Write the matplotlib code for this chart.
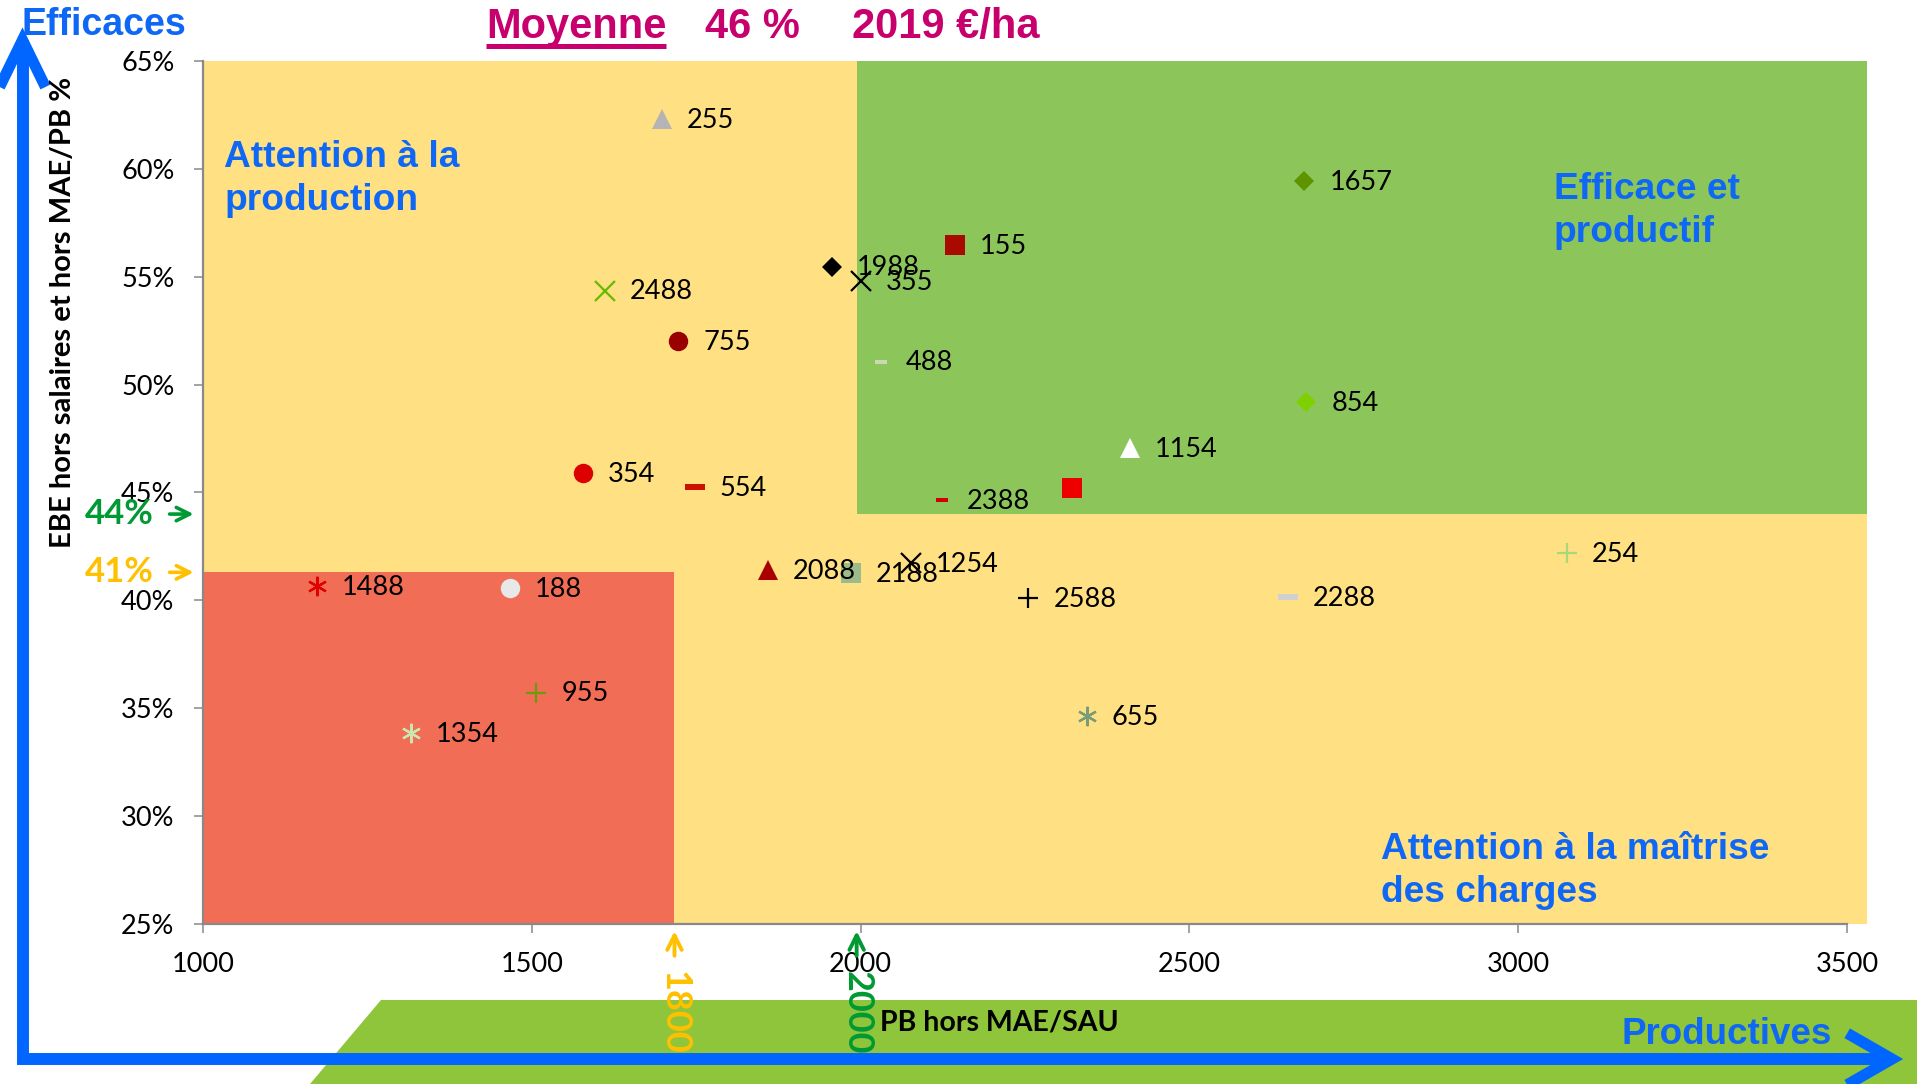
import matplotlib.pyplot as plt
from matplotlib.patches import Rectangle, Polygon
from matplotlib.lines import Line2D

# points: PB hors MAE/SAU (x) and EBE % (y)
labels = ["255", "1657", "155", "1988", "355", "2488", "755", "488", "854", "1154",
          "354", "554", "", "2388", "254", "1254", "2088", "2188", "1488", "188",
          "2588", "2288", "955", "655", "1354"]
pb = [1698, 2675, 2144, 1956, 2000, 1611, 1723, 2031, 2678, 2410,
      1578, 1748, 2322, 2124, 3074, 2076, 1859, 1985, 1173, 1467,
      2255, 2650, 1507, 2344, 1316]
ebe = [62.3, 59.45, 56.47, 55.47, 54.82, 54.36, 52.0, 51.07, 49.21, 47.08,
       45.9, 45.27, 45.23, 44.66, 42.19, 41.72, 41.41, 41.26, 40.67, 40.59,
       40.1, 40.15, 35.73, 34.65, 33.87]

# thresholds of the coloured zones
x_thr = [1717, 1994]
x_thr_labels = ["1800", "2000"]
y_thr = [41.3, 44.0]
y_thr_labels = ["41%", "44%"]
x_max_zone = 3531

moyenne = ["Moyenne", "46 %", "2019 €/ha"]
x_ticks = [1000, 1500, 2000, 2500, 3000, 3500]
y_ticks = [25, 30, 35, 40, 45, 50, 55, 60, 65]

# marker styles
dash = [(-1, -0.28), (1, -0.28), (1, 0.28), (-1, 0.28), (-1, -0.28)]
star = (6, 2, 0)
markers = ['^', 'D', 's', 'D', 'x', 'x', 'o', dash, 'D', '^',
           'o', dash, 's', dash, '+', 'x', '^', 's', star, 'o',
           '+', dash, '+', star, star]
colors = ['#B4B4B4', '#5E9400', '#A80A00', '#000000', '#000000', '#66BB00', '#990000', '#C9D9B5', '#7ED000', '#FFFFFF',
          '#DD0000', '#CC1100', '#EE0000', '#CC0000', '#A8D878', '#000000', '#A80000', '#9DBB8A', '#E00000', '#E8E8E8',
          '#000000', '#D0D0D0', '#6A9A10', '#7A9A7A', '#C8E8B0']
sizes = [14, 10, 14, 10, 14, 14, 14, 9, 10, 14,
         14, 15, 14, 8, 14, 14, 14, 14, 14, 14,
         14, 15, 14, 14, 14]

BLUE = '#0066FF'
BLUE_TXT = '#0F67F5'
MAG = '#C8006E'
GREEN_TXT = '#009933'
ORANGE = '#FFC000'
GRAY = '#898989'

fig = plt.figure(figsize=(19.17, 10.84), dpi=100)

# overlay in pixel coordinates for the decorations around the chart
ov = fig.add_axes([0, 0, 1, 1])
ov.set_xlim(0, 1917)
ov.set_ylim(1084, 0)
ov.axis('off')
ov.set_zorder(0)

ov.add_patch(Polygon([(381, 1000), (1917, 1000), (1917, 1084), (310, 1084)],
                     closed=True, fc='#8EC53A', ec='none'))
ov.add_line(Line2D([22.5, 22.5, 1888], [40, 1059, 1059], lw=8.6, color=BLUE,
                   solid_joinstyle='miter', solid_capstyle='butt'))
ov.add_line(Line2D([2, 22.5, 43], [82, 40, 82], lw=8, color=BLUE, solid_joinstyle='miter'))
ov.add_line(Line2D([1852, 1892, 1852], [1036, 1059, 1082], lw=8, color=BLUE, solid_joinstyle='miter'))

ov.text(21, 35, "Efficaces", fontsize=27, fontweight='bold', family='Liberation Sans',
        color=BLUE_TXT, va='baseline', ha='left')
ov.text(1621, 1044, "Productives", fontsize=26.5, fontweight='bold', family='Liberation Sans',
        color=BLUE_TXT, va='baseline', ha='left')
ov.text(880, 1022, "PB hors MAE/SAU", fontsize=20.5, fontweight='bold', family='Lato',
        color='black', va='center', ha='left')
ov.text(63, 312, "EBE hors salaires et hors MAE/PB %", fontsize=21, fontweight='bold', family='Lato',
        color='black', va='center', ha='center', rotation=90)

title_x = [486, 705, 852]
title_objs = []
for t, x0 in zip(moyenne, title_x):
    title_objs.append(ov.text(x0, 38, t, fontsize=30, fontweight='bold', family='Liberation Sans',
                              color=MAG, va='baseline', ha='left'))

# main chart
ax = fig.add_axes([203 / 1917, 1 - 924 / 1084, (1847 - 203) / 1917, (924 - 61) / 1084])
ax.set_zorder(1)
ax.patch.set_visible(False)

ax.add_patch(Rectangle((x_ticks[0], y_ticks[0]), x_max_zone - x_ticks[0], y_ticks[-1] - y_ticks[0],
                       fc='#FFE083', ec='none', zorder=0, clip_on=False))
ax.add_patch(Rectangle((x_thr[1], y_thr[1]), x_max_zone - x_thr[1], y_ticks[-1] - y_thr[1],
                       fc='#8CC65B', ec='none', zorder=0.1, clip_on=False))
ax.add_patch(Rectangle((x_ticks[0], y_ticks[0]), x_thr[0] - x_ticks[0], y_thr[0] - y_ticks[0],
                       fc='#F26D55', ec='none', zorder=0.2, clip_on=False))

for i in range(len(pb)):
    m = markers[i]
    line_marker = m in ('x', '+') or m == star
    ax.plot(pb[i], ebe[i], ls='none', marker=m, ms=sizes[i],
            mfc=colors[i], mec=colors[i], mew=1.6 if line_marker else 0, zorder=3, clip_on=False)
    if labels[i]:
        ax.annotate(labels[i], (pb[i], ebe[i]), xytext=(18, -1), textcoords='offset points',
                    va='center', ha='left', fontsize=19.5, family='Lato', zorder=4)

# zone titles (y = baseline of the last line)
zone_kw = dict(fontsize=26.7, fontweight='bold', family='Liberation Sans', color=BLUE_TXT,
               va='baseline', ha='left', linespacing=1.3)
ax.text(1032, 58.10, "Attention à la\nproduction", **zone_kw)
ax.text(3054, 56.61, "Efficace et\nproductif", **zone_kw)
ax.text(2792, 26.03, "Attention à la maîtrise\ndes charges", **zone_kw)

# threshold markers on the axes
ytr = ax.get_yaxis_transform()
xtr = ax.get_xaxis_transform()
for yv, lab, col in zip(y_thr, y_thr_labels, [ORANGE, GREEN_TXT]):
    ax.text(-0.030, yv, lab, transform=ytr, fontsize=25, fontweight='bold', family='Lato',
            color=col, ha='right', va='center', clip_on=False)
    ax.annotate("", xy=(-0.004, yv), xycoords=ytr, xytext=(-0.022, yv), textcoords=ytr,
                arrowprops=dict(arrowstyle='->', lw=2.6, color=col, mutation_scale=24),
                annotation_clip=False)
for xv, lab, col in zip(x_thr, x_thr_labels, [ORANGE, GREEN_TXT]):
    ax.annotate("", xy=(xv, -0.005), xycoords=xtr, xytext=(xv, -0.040), textcoords=xtr,
                arrowprops=dict(arrowstyle='->', lw=2.8, color=col, mutation_scale=26),
                annotation_clip=False, zorder=5)
    ax.text(xv, -0.103, lab, transform=xtr, fontsize=26, fontweight='bold', family='Lato',
            color=col, ha='center', va='center', rotation=270, clip_on=False, zorder=5)

ax.set_xlim(x_ticks[0], x_ticks[-1])
ax.set_ylim(y_ticks[0], y_ticks[-1])
ax.set_xticks(x_ticks)
ax.set_yticks(y_ticks)
ax.set_yticklabels([f"{v}%" for v in y_ticks])
for lab in ax.get_xticklabels() + ax.get_yticklabels():
    lab.set_family('Lato')
    lab.set_fontsize(19.5)
ax.tick_params(axis='both', direction='out', length=6.5, width=1.1, color=GRAY)
ax.tick_params(axis='y', pad=14)
ax.tick_params(axis='x', pad=14)
for s in ['top', 'right']:
    ax.spines[s].set_visible(False)
for s in ['left', 'bottom']:
    ax.spines[s].set_color(GRAY)
    ax.spines[s].set_linewidth(1.6)

# underline "Moyenne"
fig.canvas.draw()
bb = title_objs[0].get_window_extent()
inv = ov.transData.inverted()
(x0, _), (x1, _) = inv.transform([(bb.x0, bb.y0), (bb.x1, bb.y0)])
ov.add_line(Line2D([x0, x1], [46, 46], lw=3.6, color=MAG, solid_capstyle='butt'))

fig.savefig("out.png", dpi=100)
